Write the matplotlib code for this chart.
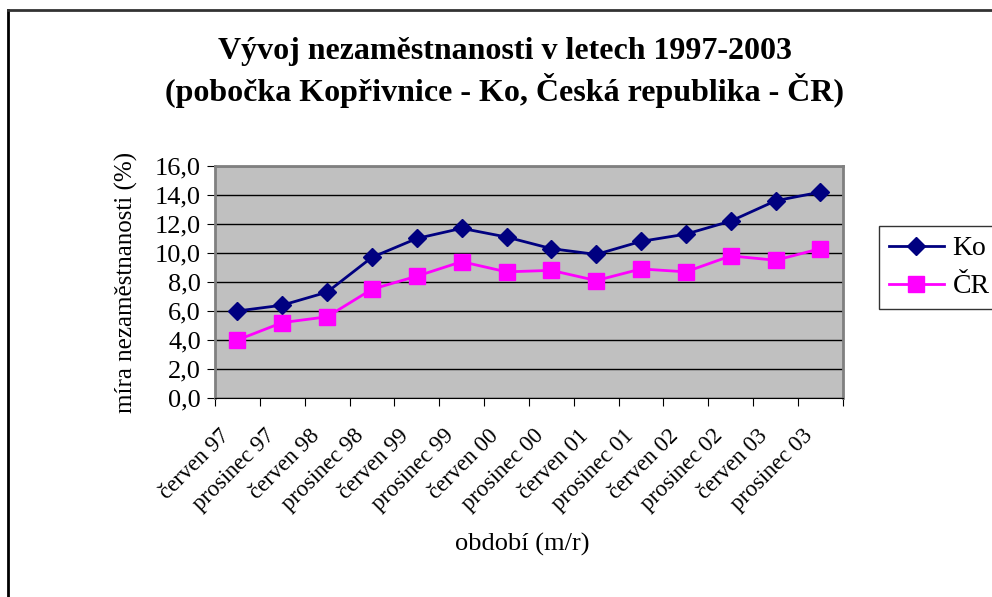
import numpy as np
import matplotlib
matplotlib.use('Agg')
import matplotlib.pyplot as plt
import matplotlib.transforms as mtransforms
from matplotlib.lines import Line2D

matplotlib.rcParams['font.family'] = ['Liberation Serif', 'DejaVu Serif']

periods = ['červen 97', 'prosinec 97', 'červen 98', 'prosinec 98', 'červen 99',
           'prosinec 99', 'červen 00', 'prosinec 00', 'červen 01', 'prosinec 01',
           'červen 02', 'prosinec 02', 'červen 03', 'prosinec 03']
ko = [6.0, 6.4, 7.3, 9.7, 11.0, 11.7, 11.1, 10.3, 9.9, 10.8, 11.3, 12.2, 13.6, 14.2]
cr = [4.0, 5.2, 5.6, 7.5, 8.4, 9.4, 8.7, 8.8, 8.1, 8.9, 8.7, 9.8, 9.5, 10.3]

fig = plt.figure(figsize=(9.92, 5.97), dpi=100)
ax = fig.add_axes([0.2167, 0.3333, 0.633, 0.3887])
ax.set_facecolor('#c0c0c0')

x = np.arange(len(periods))
ax.plot(x, ko, color='#000080', lw=2, marker='D', ms=9, mfc='#000080', mec='#000080', label='Ko', zorder=3)
ax.plot(x, cr, color='#ff00ff', lw=2, marker='s', ms=11, mfc='#ff00ff', mec='#ff00ff', label='ČR', zorder=3)

ax.set_xlim(-0.5, len(periods) - 0.5)
ax.set_ylim(0, 16)
ax.set_yticks(np.arange(0, 16.1, 2))
ax.set_yticklabels([f'{v:.1f}'.replace('.', ',') for v in np.arange(0, 16.1, 2)], fontsize=19)
ax.yaxis.grid(True, color='black', lw=1)
ax.set_axisbelow(True)

# ticks at category boundaries, labels at centres
ax.set_xticks(np.arange(-0.5, len(periods), 1))
ax.set_xticklabels([])
ax.set_xticks(x, minor=True)
ax.set_xticklabels(periods, minor=True, rotation=45, ha='right', va='center',
                   rotation_mode='anchor', fontsize=16.5)
ax.tick_params(axis='x', which='minor', length=0, pad=25)
ax.tick_params(axis='x', which='major', length=6, direction='out')
ax.tick_params(axis='y', length=6, direction='out', pad=4)
shift = mtransforms.ScaledTranslation(-11 / 100, 0, fig.dpi_scale_trans)
for lab in ax.get_xticklabels(minor=True):
    lab.set_transform(lab.get_transform() + shift)

for s in ['top', 'right', 'left']:
    ax.spines[s].set_color('#808080')
    ax.spines[s].set_linewidth(2)
ax.spines['bottom'].set_color('black')

ax.set_ylabel('míra nezaměstnanosti (%)', fontsize=18, labelpad=12)
fig.text(0.5267, 0.088, 'období (m/r)', fontsize=19, ha='center', va='center')

fig.text(0.509, 0.913, 'Vývoj nezaměstnanosti v letech 1997-2003', fontsize=23,
         fontweight='bold', ha='center', va='center')
fig.text(0.509, 0.848, '(pobočka Kopřivnice - Ko, Česká republika - ČR)', fontsize=23,
         fontweight='bold', ha='center', va='center')

leg = fig.legend(loc='upper left', bbox_to_anchor=(0.886, 0.621), fontsize=20,
                 frameon=True, fancybox=False, edgecolor='black', handlelength=2.0,
                 borderpad=0.35, labelspacing=0.45, handletextpad=0.3, borderaxespad=0)
leg.get_frame().set_linewidth(1)

# outer chart border (left and top)
fig.add_artist(Line2D([0.0085, 0.0085], [0, 0.983], color='black', lw=2, transform=fig.transFigure))
fig.add_artist(Line2D([0.0085, 1.0], [0.983, 0.983], color='#333333', lw=2, transform=fig.transFigure))

fig.savefig('out.png', dpi=100)
